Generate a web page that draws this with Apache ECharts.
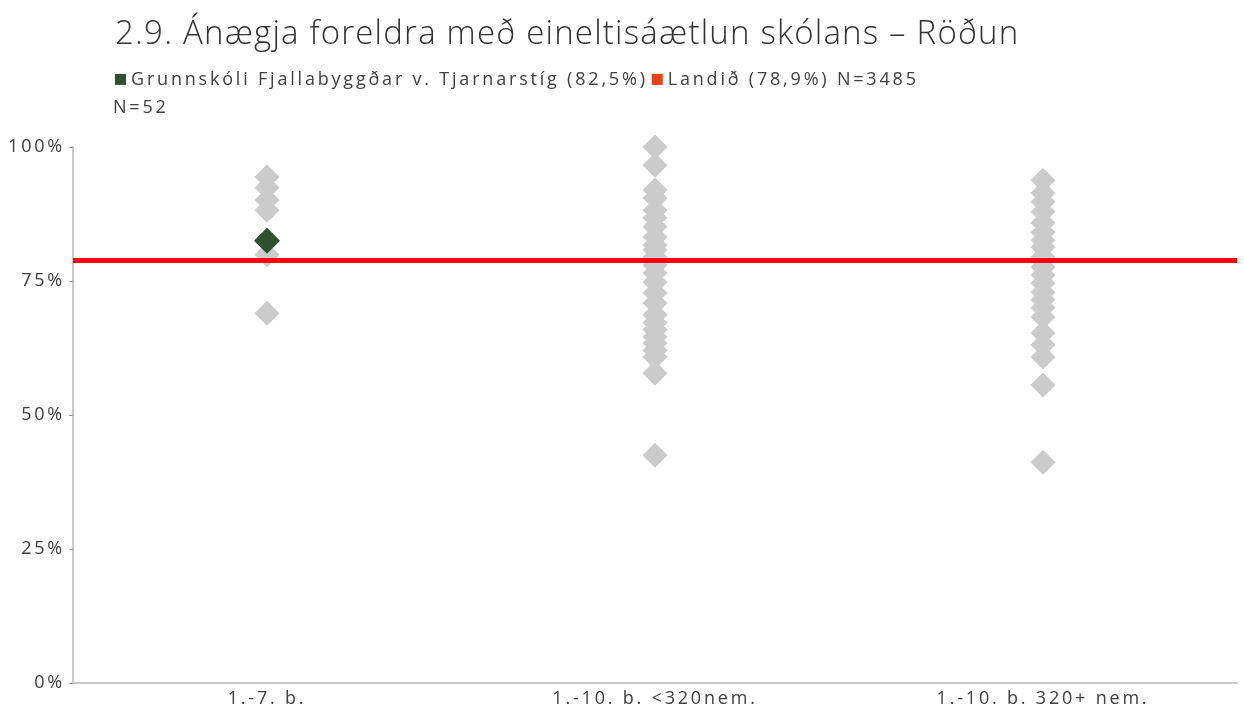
<!DOCTYPE html>
<html><head><meta charset="utf-8">
<script src="https://cdn.jsdelivr.net/npm/echarts@6/dist/echarts.min.js"></script>
<style>html,body{margin:0;padding:0;background:#fff}#c{width:1244px;height:709px}</style>
</head><body><div id="c"></div>
<script>
const title = "2.9. Ánægja foreldra með eineltisáætlun skólans – Röðun";
const categories = ["1.-7. b.", "1.-10. b. <320nem.", "1.-10. b. 320+ nem."];
const yTicks = [0, 25, 50, 75, 100];
const schoolName = "Grunnskóli Fjallabyggðar v. Tjarnarstíg (82,5%)";
const schoolN = "N=52";
const nationName = "Landið (78,9%) N=3485";
const nationValue = 78.9;
const schoolCategory = 0;
const schoolValue = 82.5;
const group1 = [94.4, 92.4, 90.1, 88.2, 82.5, 79.9, 69.0];
const group2 = [100, 96.6, 92.0, 90.5, 88.2, 86.8, 85.1, 83.2, 81.7, 80.8, 79.5, 78.0, 76.5, 74.8, 72.8, 70.9, 68.7, 67.2, 65.9, 64.6, 63.4, 62.1, 60.8, 57.8, 42.5];
const group3 = [93.8, 91.4, 89.8, 87.9, 85.8, 84.1, 82.6, 81.3, 79.5, 77.6, 76.1, 74.6, 72.9, 71.5, 70.0, 68.3, 65.3, 63.1, 60.8, 55.6, 41.2];

// Reference typography uses tracked (letter-spaced) text; emulate via canvas letterSpacing.
(function () {
  const proto = CanvasRenderingContext2D.prototype;
  if (!('letterSpacing' in proto)) return;
  function spacingFor(font) {
    const m = /(\d+(?:\.\d+)?)px/.exec(font || '');
    const s = m ? parseFloat(m[1]) : 12;
    return s >= 28 ? '1.2px' : (s >= 16 ? '2.8px' : '0px');
  }
  ['fillText', 'strokeText', 'measureText'].forEach(fn => {
    const orig = proto[fn];
    proto[fn] = function () {
      this.letterSpacing = spacingFor(this.font);
      return orig.apply(this, arguments);
    };
  });
})();

const groups = [group1, group2, group3];
const greyData = [];
groups.forEach((g, i) => g.forEach(v => greyData.push([i, v])));

const chart = echarts.init(document.getElementById('c'), null, {renderer: 'canvas'});
const txt = '#404040';
const font = 'Open Sans';
const legendText = {fontFamily: font, fontSize: 18, color: txt};
chart.setOption({
  animation: false,
  backgroundColor: '#ffffff',
  title: {
    text: title, left: 110, top: 12,
    textStyle: {fontFamily: font, fontWeight: 300, fontSize: 33, color: '#333333'}
  },
  legend: {
    left: 110, top: 64, itemWidth: 11, itemHeight: 11, itemGap: 4,
    icon: 'rect', textStyle: legendText, selectedMode: false,
    data: [
      {name: schoolName, itemStyle: {color: '#2e5230'}},
      {name: nationName, itemStyle: {color: '#e84118'}}
    ]
  },
  graphic: [{
    type: 'text', left: 113, top: 97,
    style: {text: schoolN, fontFamily: font, fontSize: 18, fill: txt}
  }],
  grid: {left: 73, right: 7, top: 147, bottom: 26, containLabel: false},
  xAxis: {
    type: 'category', data: categories, boundaryGap: true,
    axisLine: {lineStyle: {color: '#c8c8c8', width: 2}},
    axisTick: {show: false},
    axisLabel: {fontFamily: font, fontSize: 18, color: txt, margin: 5},
    splitLine: {show: false}
  },
  yAxis: {
    type: 'value', min: 0, max: 100, interval: 25,
    axisLine: {show: true, lineStyle: {color: '#c8c8c8', width: 2}},
    axisTick: {show: true, length: 4, lineStyle: {color: '#999999'}},
    axisLabel: {fontFamily: font, fontSize: 18, color: txt, margin: 8,
      formatter: v => yTicks.includes(v) ? v + '%' : ''},
    splitLine: {show: false}
  },
  series: [
    {
      type: 'scatter', name: 'grey', symbol: 'diamond', symbolSize: 25,
      itemStyle: {color: '#cbcbcb', opacity: 1},
      data: greyData, z: 2
    },
    {
      type: 'scatter', name: schoolName, symbol: 'diamond', symbolSize: 26,
      itemStyle: {color: '#2e5230', opacity: 1},
      data: [[schoolCategory, schoolValue]], z: 5
    },
    {
      type: 'line', name: nationName, data: [],
      itemStyle: {color: '#e84118'},
      markLine: {
        silent: true, symbol: 'none', label: {show: false},
        lineStyle: {color: '#ff0000', width: 5, type: 'solid'},
        data: [{yAxis: nationValue}]
      },
      z: 4
    }
  ]
});
</script></body></html>
